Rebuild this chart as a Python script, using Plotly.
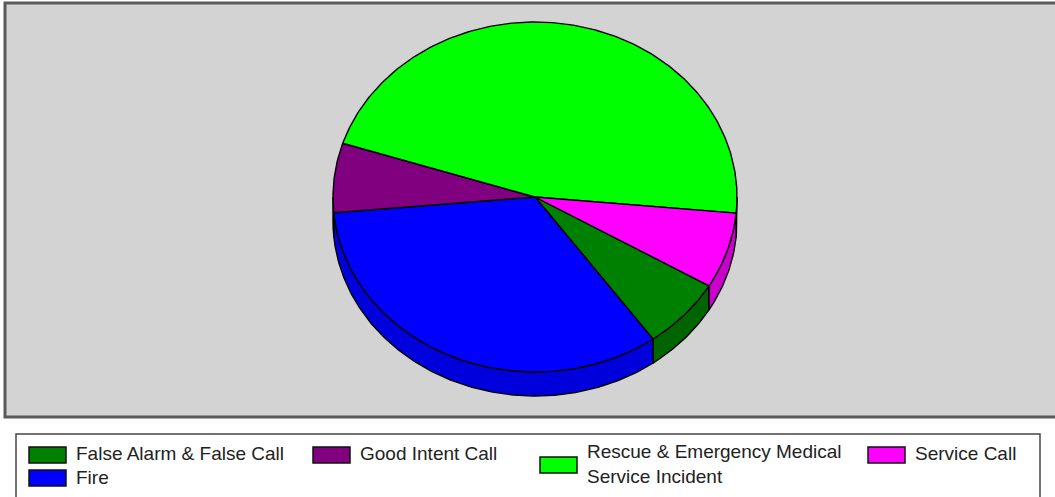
import numpy as np
import plotly.graph_objects as go

# Incident counts by type (share of all calls, %)
categories = [
    "False Alarm & False Call",
    "Fire",
    "Good Intent Call",
    "Rescue & Emergency Medical Service Incident",
    "Service Call",
]
values = [6.6, 33.5, 6.4, 46.5, 7.0]
legend_labels = [
    "False Alarm & False Call",
    "Fire",
    "Good Intent Call",
    "Rescue & Emergency Medical<br>Service Incident",
    "Service Call",
]
colors = ["#008000", "#0000ff", "#800080", "#00ff00", "#ff00ff"]
side_colors = ["#006400", "#0000dd", "#680068", "#00d800", "#cc00cc"]

# Page / plot geometry (pixels)
W, H = 1055, 497
PL, PT = 4, 2
PW, PH = W - PL, 416
MB = H - PT - PH

# Pie geometry in axis units (axes are scaled 1 unit = 1 px)
CX, CY = 531.0, 221.0
RX, RY = 202.0, 175.0
DEPTH = 24.0
START = 329.5  # degrees, slices run clockwise


def ell(t):
    r = np.radians(t)
    return CX + RX * np.cos(r), CY + RY * np.sin(r)


def arc(a, b, n=None):
    if n is None:
        n = max(8, int(abs(b - a) * 1.5))
    return np.linspace(a, b, n)


total = float(sum(values))
sweeps = [v / total * 360.0 for v in values]
bounds = []
a = START
for s in sweeps:
    bounds.append((a, a - s))
    a -= s

fig = go.Figure()
EDGE = dict(color="#000000", width=1.4)

# side walls (front half of the rim only)
for i, (a0, a1) in enumerate(bounds):
    lo, hi = a1, a0
    for k in range(-3, 3):
        s, e = max(lo, 360 * k - 180), min(hi, 360 * k)
        if e <= s:
            continue
        t = arc(s, e)
        x, y = ell(t)
        xs = np.concatenate([x, x[::-1], x[:1]])
        ys = np.concatenate([y, y[::-1] - DEPTH, y[:1]])
        fig.add_trace(go.Scatter(
            x=xs, y=ys, mode="lines", fill="toself",
            fillcolor=side_colors[i], line=EDGE,
            hoverinfo="skip", showlegend=False,
        ))

# top faces
for i, (a0, a1) in enumerate(bounds):
    t = arc(a0, a1)
    x, y = ell(t)
    xs = np.concatenate([[CX], x, [CX]])
    ys = np.concatenate([[CY], y, [CY]])
    fig.add_trace(go.Scatter(
        x=xs, y=ys, mode="lines", fill="toself",
        fillcolor=colors[i], line=EDGE,
        name=categories[i],
        text=[f"{categories[i]}: {values[i]}%"] * len(xs),
        hoverinfo="text", hoveron="fills", showlegend=False,
    ))


def px_x(x):
    return (x - PL) / PW


def px_y(y):
    return (PT + PH - y) / PH


shapes = [
    # plot frame
    dict(type="rect", xref="paper", yref="paper",
         x0=px_x(PL + 1), x1=1.02, y0=px_y(PT + PH - 1), y1=px_y(PT + 1),
         line=dict(color="#5a5a5a", width=3), fillcolor="rgba(0,0,0,0)",
         layer="above"),
    # legend frame
    dict(type="rect", xref="paper", yref="paper",
         x0=px_x(16), x1=px_x(1040), y0=px_y(505), y1=px_y(434),
         line=dict(color="#444444", width=1.5), fillcolor="white"),
]

# legend item placement: (swatch left, swatch top, text center y)
legend_pos = [
    (29, 447, 453),
    (29, 470, 477),
    (313, 447, 453),
    (540, 457, 464),
    (868, 447, 453),
]
SW, SH = 37, 16
annotations = []
for i, (lx, ly, ty) in enumerate(legend_pos):
    shapes.append(dict(
        type="rect", xref="paper", yref="paper",
        x0=px_x(lx), x1=px_x(lx + SW), y0=px_y(ly + SH), y1=px_y(ly),
        line=dict(color="#111111", width=1.5), fillcolor=colors[i]))
    annotations.append(dict(
        xref="paper", yref="paper", x=px_x(lx + 45), y=px_y(ty),
        xanchor="left", yanchor="middle", align="left", showarrow=False,
        text=legend_labels[i],
        font=dict(family="Liberation Sans, Arial, sans-serif", size=19,
                  color="#222222")))

fig.update_layout(
    width=W, height=H,
    margin=dict(l=PL, r=0, t=PT, b=MB, autoexpand=False),
    paper_bgcolor="white",
    plot_bgcolor="#d3d3d3",
    xaxis=dict(range=[0, PW], visible=False, fixedrange=True),
    yaxis=dict(range=[0, PH], visible=False, fixedrange=True),
    shapes=shapes,
    annotations=annotations,
    showlegend=False,
)

fig.write_html("out.html")
